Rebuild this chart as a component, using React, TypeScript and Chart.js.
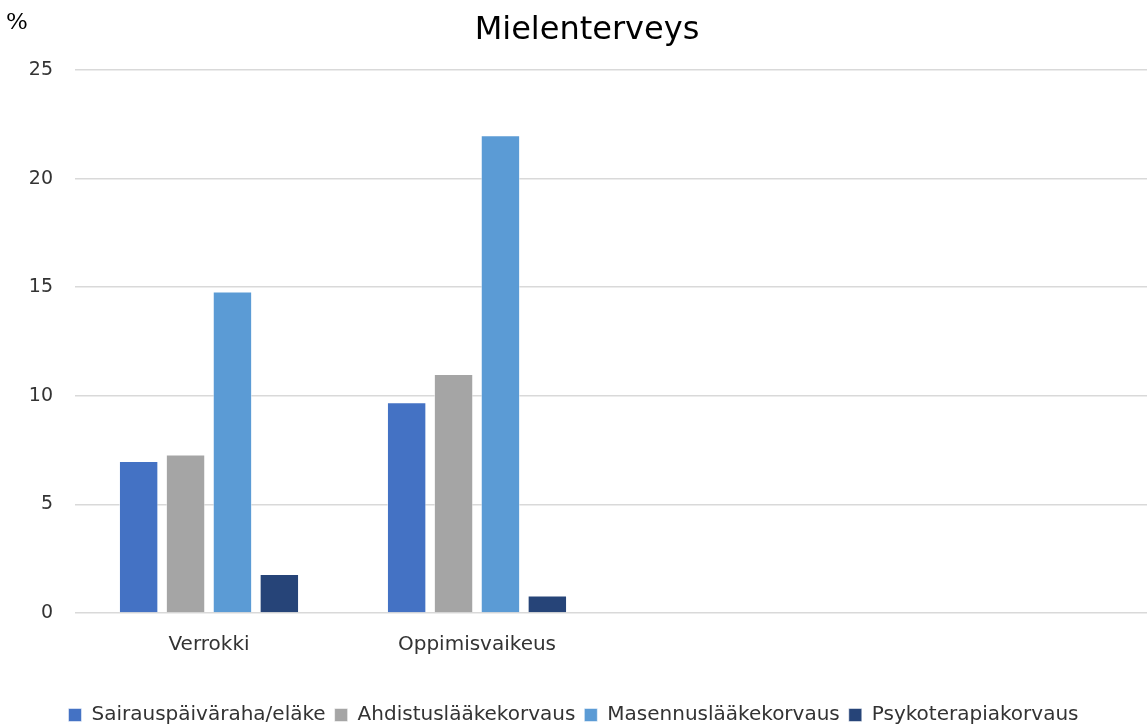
import React, { useEffect, useRef } from "react";
import { Chart, registerables } from "chart.js";

Chart.register(...registerables);

const categories = ["Verrokki", "Oppimisvaikeus", "", ""];
const seriesNames = ["Sairauspäiväraha/eläke", "Ahdistuslääkekorvaus", "Masennuslääkekorvaus", "Psykoterapiakorvaus"];
const sairauspaivaraha = [7.0, 9.7, null, null];
const ahdistus = [7.3, 11.0, null, null];
const masennus = [14.8, 22.0, null, null];
const psykoterapia = [1.8, 0.8, null, null];
const colors = ["#4472C4", "#A5A5A5", "#5B9BD5", "#264478"];
const titleText = "Mielenterveys";
const unitText = "%";

const FONT = "'DejaVu Sans', sans-serif";

export default function App() {
  const ref = useRef<HTMLCanvasElement | null>(null);
  useEffect(() => {
    document.body.style.margin = "0";
    const ctx = ref.current!;
    const values = [sairauspaivaraha, ahdistus, masennus, psykoterapia];
    const overlay = {
      id: "overlay",
      afterDraw(chart: any) {
        const c = chart.ctx;
        c.save();
        c.fillStyle = "#000";
        c.font = `32px ${FONT}`;
        c.textAlign = "center";
        c.textBaseline = "middle";
        c.fillText(titleText, 587, 31);
        c.font = `23px 'DejaVu Serif', serif`;
        c.textAlign = "left";
        c.fillText(unitText, 6, 23);
        c.restore();
      },
    };
    const chart = new Chart(ctx, {
      type: "bar",
      data: {
        labels: categories,
        datasets: seriesNames.map((n, i) => ({
          label: n,
          data: values[i] as any,
          backgroundColor: colors[i],
          borderColor: "rgba(255,255,255,0.5)",
          borderWidth: 1,
          barPercentage: 0.84,
          categoryPercentage: 0.7,
        })),
      },
      options: {
        animation: false,
        responsive: false,
        maintainAspectRatio: false,
        layout: { padding: { top: 70, right: 0, left: 0, bottom: -10 } },
        plugins: {
          title: { display: false },
          tooltip: { enabled: false },
          legend: {
            position: "bottom",
            labels: {
              boxWidth: 13,
              boxHeight: 13,
              padding: 9,
              color: "#333",
              font: { family: FONT, size: 20 },
            },
          },
        },
        scales: {
          x: {
            grid: { display: false },
            border: { display: false },
            ticks: { color: "#333", font: { family: FONT, size: 20 }, padding: 12 },
            afterFit(scale: any) { scale.height = 83; },
          },
          y: {
            min: 0,
            max: 25,
            grid: { color: "#d9d9d9", lineWidth: 1.5, drawTicks: false },
            border: { display: false },
            ticks: { stepSize: 5, color: "#333", font: { family: FONT, size: 19 }, padding: 22 },
            afterFit(scale: any) { scale.width = 75; },
          },
        },
      },
      plugins: [overlay],
    });
    return () => chart.destroy();
  }, []);
  return (
    <div style={{ position: "absolute", left: 0, top: 0, width: 1147, height: 725 }}>
      <canvas ref={ref} width={1147} height={725} style={{ width: 1147, height: 725 }} />
    </div>
  );
}
